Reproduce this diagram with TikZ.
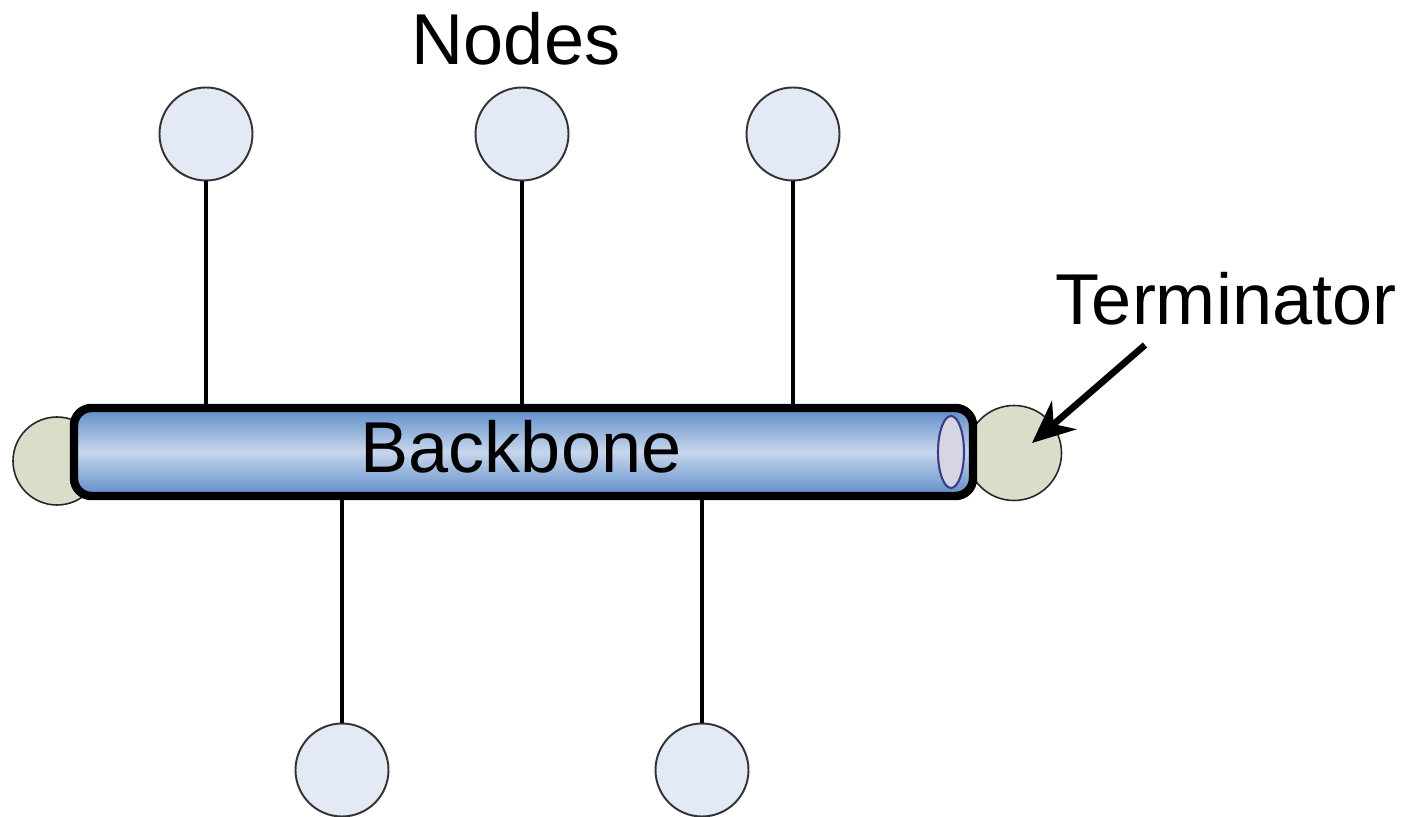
\documentclass[tikz,border=0pt]{standalone}
\usepackage{fontspec}
\setmainfont{Liberation Sans}
\usetikzlibrary{arrows.meta}
\usetikzlibrary{positioning}

\definecolor{nodefill}{RGB}{227,234,245}
\definecolor{termfill}{RGB}{218,221,200}
\definecolor{pipetop}{RGB}{92,140,200}
\definecolor{pipemid}{RGB}{200,214,236}
\definecolor{rimblue}{RGB}{60,60,140}
\definecolor{rimfill}{RGB}{214,214,226}

\begin{document}
\begin{tikzpicture}[
  station/.style={circle,draw=black!80,line width=1.1pt,fill=nodefill,minimum size=1.86cm,inner sep=0pt},
  term/.style={circle,draw=black!85,line width=0.9pt,fill=termfill,inner sep=0pt},
  wire/.style={line width=1.9pt},
  bigtext/.style={font=\fontsize{41}{49}\selectfont,anchor=base}
]
\useasboundingbox (0,0) rectangle (28.32,16.34);

% terminators sit behind the pipe
\node[term,minimum size=1.76cm] (tl) at (1.14,7.12) {};
\node[term,minimum size=1.9cm] (tr) at (20.28,7.28) {};

% backbone pipe
\node[draw=black,line width=4.8pt,rounded corners=0.35cm,
      minimum width=17.98cm,minimum height=1.76cm,inner sep=0pt,
      top color=pipetop,bottom color=pipetop,middle color=pipemid] (bb) at (10.47,7.30) {};
\draw[draw=rimblue,fill=rimfill,line width=1.2pt] (19.02,7.30) ellipse (0.26 and 0.72);
\node[bigtext] (bbl) at (10.42,6.88) {Backbone};

% stations
\node[station] (s1) at (4.12,13.66) {};
\node[station] (s2) at (10.44,13.66) {};
\node[station] (s3) at (15.86,13.66) {};
\node[station] (s4) at (6.84,0.94) {};
\node[station] (s5) at (14.04,0.94) {};

\foreach \s in {s1,s2,s3}
  \draw[wire] (\s.south) -- (\s |- bb.north);
\foreach \s in {s4,s5}
  \draw[wire] (\s.north) -- (\s |- bb.south);

\node[bigtext] (nodes) at (10.32,15.04) {Nodes};
\node[bigtext] (termlbl) at (24.52,9.84) {Terminator};

\coordinate (ta) at (22.9,9.44);
\coordinate (tb) at (20.64,7.48);
\draw[line width=3.8pt,-{Stealth[length=0.85cm,width=0.75cm]}] (ta) -- (tb);

\end{tikzpicture}
\end{document}
